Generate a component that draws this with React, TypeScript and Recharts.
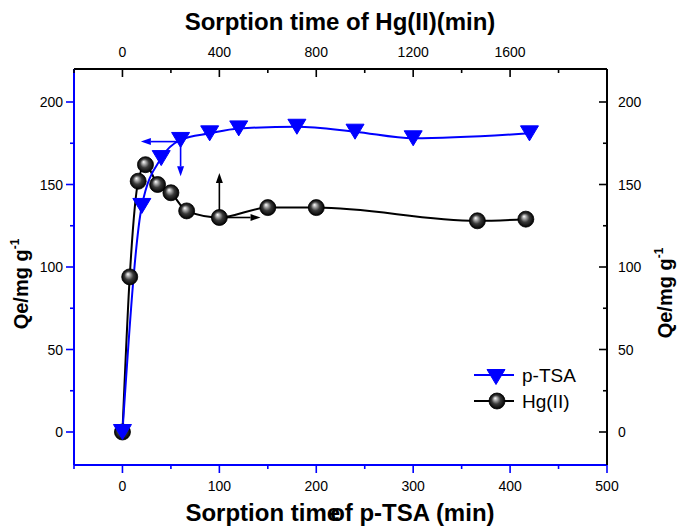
import React from "react";
import { ComposedChart, Line, XAxis, YAxis, ReferenceLine } from "recharts";

// p-TSA sorption (bottom / left axes)
const ptsaTime = [0, 20, 40, 60, 90, 120, 180, 240, 300, 420];
const ptsaQe = [0, 137, 166, 177, 181, 184, 185, 182, 178, 181];

// Hg(II) sorption (top / right axes)
const hgTime = [0, 30, 65, 95, 145, 200, 265, 400, 600, 800, 1465, 1665];
const hgQe = [0, 94, 152, 162, 150, 145, 134, 130, 136, 136, 128, 129];

const bottomTicks = [-50, 0, 50, 100, 150, 200, 250, 300, 350, 400, 450, 500];
const bottomLabels = [0, 100, 200, 300, 400, 500];
const topTicks = [-200, 0, 200, 400, 600, 800, 1000, 1200, 1400, 1600, 1800, 2000];
const topLabels = [0, 400, 800, 1200, 1600];
const qeTicks = [0, 25, 50, 75, 100, 125, 150, 175, 200];
const qeLabels = [0, 50, 100, 150, 200];

const ptsaData = ptsaTime.map((x, i) => ({ x, y: ptsaQe[i] }));
const hgData = hgTime.map((x, i) => ({ x, y: hgQe[i] }));

const W = 683;
const H = 528;
const LEFT = 74;
const RIGHT = 607;
const TOP = 69;
const BOTTOM = 465;
const BLUE = "#0000ff";
const FONT = "'Liberation Sans', Arial, Helvetica, sans-serif";

const BottomTick = ({ x, payload }: any) => {
  const v = payload.value;
  const major = bottomLabels.includes(v);
  return (
    <g>
      <line x1={x} x2={x} y1={BOTTOM} y2={BOTTOM + (major ? 8 : 4)} stroke={BLUE} strokeWidth={1.6} />
      {major && (
        <text x={x} y={BOTTOM + 26} textAnchor="middle" fontSize={14} fontFamily={FONT} fill="#000">
          {v}
        </text>
      )}
    </g>
  );
};

const TopTick = ({ x, payload }: any) => {
  const v = payload.value;
  const major = topLabels.includes(v);
  return (
    <g>
      <line x1={x} x2={x} y1={TOP} y2={TOP + (major ? 8 : 4)} stroke="#000" strokeWidth={1.6} />
      {major && (
        <text x={x} y={TOP - 12} textAnchor="middle" fontSize={14} fontFamily={FONT} fill="#000">
          {v}
        </text>
      )}
    </g>
  );
};

const LeftTick = ({ y, payload }: any) => {
  const v = payload.value;
  const major = qeLabels.includes(v);
  return (
    <g>
      <line x1={LEFT - (major ? 8 : 4)} x2={LEFT} y1={y} y2={y} stroke={BLUE} strokeWidth={1.6} />
      {major && (
        <text x={LEFT - 11} y={y + 5} textAnchor="end" fontSize={14} fontFamily={FONT} fill="#000">
          {v}
        </text>
      )}
    </g>
  );
};

const RightTick = ({ y, payload }: any) => {
  const v = payload.value;
  const major = qeLabels.includes(v);
  return (
    <g>
      <line x1={RIGHT - (major ? 8 : 4)} x2={RIGHT} y1={y} y2={y} stroke="#000" strokeWidth={1.6} />
      {major && (
        <text x={RIGHT + 11} y={y + 5} textAnchor="start" fontSize={14} fontFamily={FONT} fill="#000">
          {v}
        </text>
      )}
    </g>
  );
};

const Tri = ({ cx, cy }: any) => (
  <polygon
    points={`${cx - 9},${cy - 7.5} ${cx + 9},${cy - 7.5} ${cx},${cy + 7.5}`}
    fill={BLUE}
    stroke={BLUE}
    strokeWidth={1}
  />
);

const Ball = ({ cx, cy }: any) => (
  <circle cx={cx} cy={cy} r={8} fill="url(#ballGrad)" stroke="#000" strokeWidth={0.8} />
);

const arrowShape = (color: string) => (props: any) => {
  const { x1, y1, x2, y2 } = props;
  const dx = x2 - x1;
  const dy = y2 - y1;
  const len = Math.sqrt(dx * dx + dy * dy) || 1;
  const ux = dx / len;
  const uy = dy / len;
  const hl = 10;
  const hw = 3.5;
  const bx = x2 - ux * hl;
  const by = y2 - uy * hl;
  return (
    <g>
      <line x1={x1} y1={y1} x2={bx} y2={by} stroke={color} strokeWidth={1.6} />
      <polygon
        points={`${x2},${y2} ${bx - uy * hw},${by + ux * hw} ${bx + uy * hw},${by - ux * hw}`}
        fill={color}
      />
    </g>
  );
};

export default function App() {
  return (
    <div style={{ position: "absolute", left: 0, top: 0, width: W, height: H, background: "#fff" }}>
      <svg width={0} height={0} style={{ position: "absolute" }}>
        <defs>
          <radialGradient id="ballGrad" cx="0.5" cy="0.5" r="0.5" fx="0.38" fy="0.32">
            <stop offset="0" stopColor="#ffffff" />
            <stop offset="0.22" stopColor="#b0b0b0" />
            <stop offset="0.55" stopColor="#3a3a3a" />
            <stop offset="1" stopColor="#000000" />
          </radialGradient>
        </defs>
      </svg>
      <ComposedChart width={W} height={H} margin={{ top: 0, right: 0, bottom: 0, left: 0 }}>
        <XAxis
          xAxisId="b"
          type="number"
          dataKey="x"
          orientation="bottom"
          domain={[-50, 500]}
          allowDataOverflow
          ticks={bottomTicks}
          interval={0}
          height={H - BOTTOM}
          axisLine={{ stroke: BLUE, strokeWidth: 2 }}
          tickLine={false}
          tick={<BottomTick />}
        />
        <XAxis
          xAxisId="t"
          type="number"
          dataKey="x"
          orientation="top"
          domain={[-200, 2000]}
          allowDataOverflow
          ticks={topTicks}
          interval={0}
          height={TOP}
          axisLine={{ stroke: "#000", strokeWidth: 2 }}
          tickLine={false}
          tick={<TopTick />}
        />
        <YAxis
          yAxisId="l"
          type="number"
          orientation="left"
          domain={[-20, 220]}
          allowDataOverflow
          ticks={qeTicks}
          interval={0}
          width={LEFT}
          axisLine={{ stroke: BLUE, strokeWidth: 2 }}
          tickLine={false}
          tick={<LeftTick />}
        />
        <YAxis
          yAxisId="r"
          type="number"
          orientation="right"
          domain={[-20, 220]}
          allowDataOverflow
          ticks={qeTicks}
          interval={0}
          width={W - RIGHT}
          axisLine={{ stroke: "#000", strokeWidth: 2 }}
          tickLine={false}
          tick={<RightTick />}
        />
        <ReferenceLine
          xAxisId="b"
          yAxisId="l"
          segment={[{ x: 60, y: 176 }, { x: 19, y: 176 }]}
          shape={arrowShape(BLUE)}
        />
        <ReferenceLine
          xAxisId="b"
          yAxisId="l"
          segment={[{ x: 60, y: 176 }, { x: 60, y: 155 }]}
          shape={arrowShape(BLUE)}
        />
        <ReferenceLine
          xAxisId="t"
          yAxisId="r"
          segment={[{ x: 400, y: 130 }, { x: 400, y: 157 }]}
          shape={arrowShape("#000")}
        />
        <ReferenceLine
          xAxisId="t"
          yAxisId="r"
          segment={[{ x: 400, y: 130 }, { x: 570, y: 130 }]}
          shape={arrowShape("#000")}
        />
        <Line
          xAxisId="t"
          yAxisId="r"
          data={hgData}
          dataKey="y"
          type="monotone"
          stroke="#000"
          strokeWidth={2}
          dot={(p: any) => <Ball key={`hg-${p.index}`} cx={p.cx} cy={p.cy} />}
          activeDot={false}
          isAnimationActive={false}
        />
        <Line
          xAxisId="b"
          yAxisId="l"
          data={ptsaData}
          dataKey="y"
          type="monotone"
          stroke={BLUE}
          strokeWidth={2}
          dot={(p: any) => <Tri key={`pt-${p.index}`} cx={p.cx} cy={p.cy} />}
          activeDot={false}
          isAnimationActive={false}
        />
      </ComposedChart>
      <svg
        width={W}
        height={H}
        style={{ position: "absolute", left: 0, top: 0, pointerEvents: "none" }}
        fontFamily={FONT}
      >
        <text x={340} y={30} textAnchor="middle" fontSize={24} fontWeight="bold">
          Sorption time of Hg(II)(min)
        </text>
        <text x={340} y={521} textAnchor="middle" fontSize={24} fontWeight="bold">
          Sorption time<tspan dx={-10}>of p-TSA (min)</tspan>
        </text>
        <text transform="translate(28,284) rotate(-90)" textAnchor="middle" fontSize={20} fontWeight="bold">
          Qe/mg g<tspan fontSize={12} dy={-9}>-1</tspan>
        </text>
        <text transform="translate(672,293) rotate(-90)" textAnchor="middle" fontSize={20} fontWeight="bold">
          Qe/mg g<tspan fontSize={12} dy={-9}>-1</tspan>
        </text>
        {/* legend */}
        <line x1={474} x2={514} y1={375} y2={375} stroke={BLUE} strokeWidth={2} />
        <Tri cx={496} cy={377} />
        <text x={522} y={382} fontSize={19}>p-TSA</text>
        <line x1={474} x2={514} y1={401} y2={401} stroke="#000" strokeWidth={2} />
        <Ball cx={497} cy={401} />
        <text x={522} y={408} fontSize={19}>Hg(II)</text>
      </svg>
    </div>
  );
}
